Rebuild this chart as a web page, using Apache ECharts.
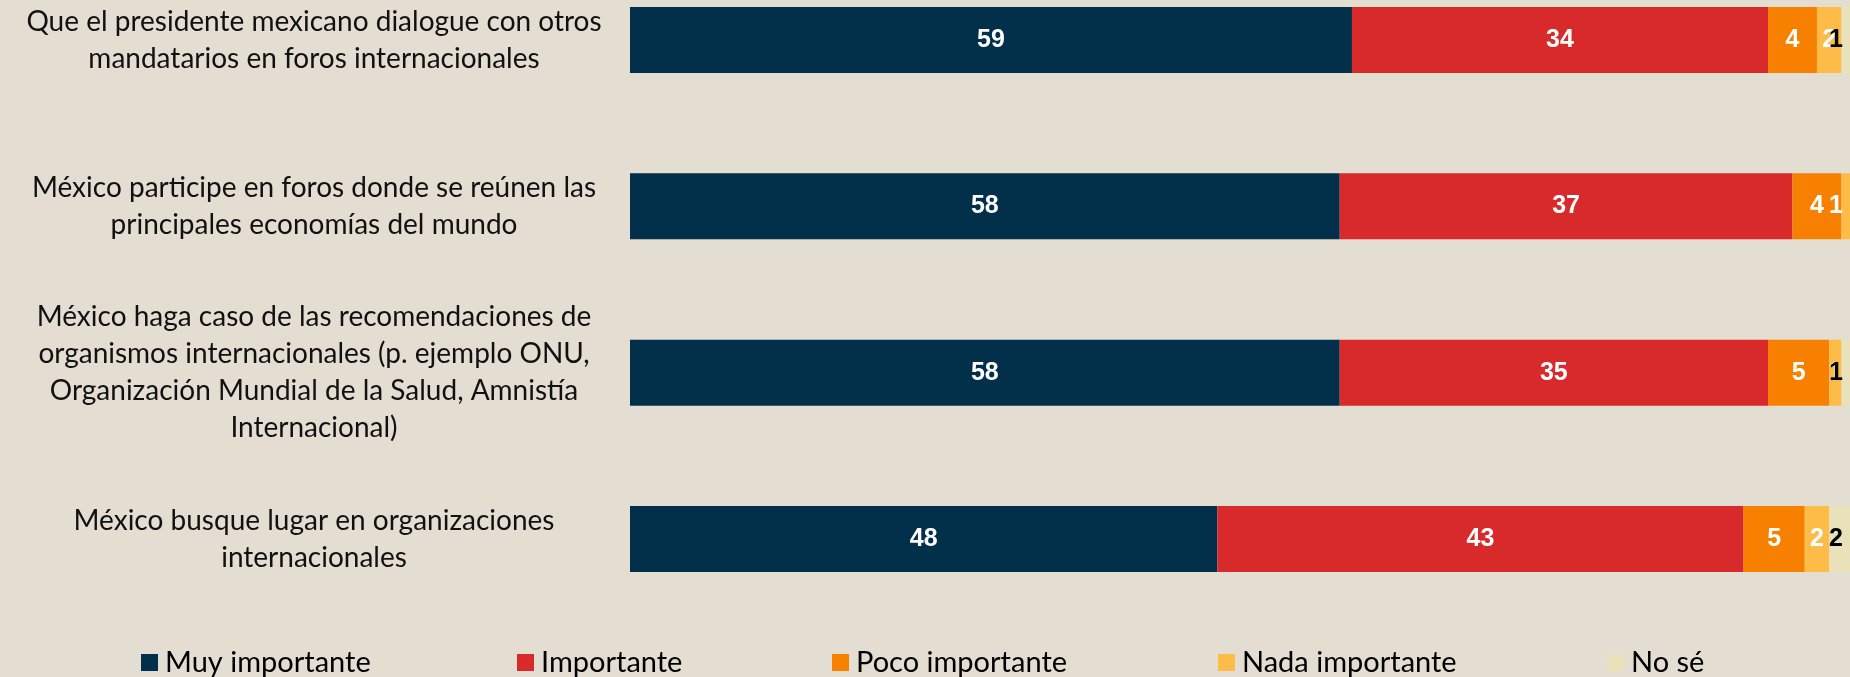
<!DOCTYPE html>
<html>
<head>
<meta charset="utf-8">
<script src="https://cdn.jsdelivr.net/npm/echarts@6/dist/echarts.min.js"></script>
<style>
html,body{margin:0;padding:0;background:#E3DDD2;}
#c{width:1850px;height:677px;}
</style>
</head>
<body>
<div id="c"></div>
<script>
const categories = [
  "Que el presidente mexicano dialogue con otros\nmandatarios en foros internacionales",
  "México participe en foros donde se reúnen las\nprincipales economías del mundo",
  "México haga caso de las recomendaciones de\norganismos internacionales (p. ejemplo ONU,\nOrganización Mundial de la Salud, Amnistía\nInternacional)",
  "México busque lugar en organizaciones\ninternacionales"
];
const seriesNames = ["Muy importante", "Importante", "Poco importante", "Nada importante", "No sé"];
const muyImportante = [59, 58, 58, 48];
const importante = [34, 37, 35, 43];
const pocoImportante = [4, 4, 5, 5];
const nadaImportante = [2, 1, 1, 2];
const noSe = [1, 0, 1, 2];

const values = [muyImportante, importante, pocoImportante, nadaImportante, noSe];
const colors = ["#022F4A", "#D8292B", "#F88000", "#FDBB48", "#E8E1BA"];
const labelColors = ["#fff", "#fff", "#fff", "#fff", "#000"];
const legendLeft = [141, 517, 832, 1218, 1607];
const W = 1850;

const chart = echarts.init(document.getElementById('c'), null, {renderer: 'canvas'});

const series = seriesNames.map((name, i) => ({
  name: name,
  type: 'bar',
  stack: 'total',
  barWidth: 66,
  clip: false,
  itemStyle: {color: colors[i]},
  label: {
    show: true,
    position: 'inside',
    color: labelColors[i],
    fontFamily: 'Liberation Sans, Arial, sans-serif',
    fontWeight: 'bold',
    fontSize: 25,
    formatter: p => (p.value > 0 ? String(p.value) : '')
  },
  labelLayout: function (params) {
    const r = params.labelRect;
    const cx = r.x + r.width / 2;
    const lim = W - 14;
    if (cx > lim) {
      return {dx: lim - cx};
    }
    return {};
  },
  data: values[i]
}));

const legends = seriesNames.map((name, i) => ({
  data: [name],
  left: legendLeft[i],
  top: 648,
  icon: 'rect',
  itemWidth: 17,
  itemHeight: 17,
  itemGap: 8,
  padding: 0,
  selectedMode: false,
  textStyle: {
    fontFamily: 'Lato, sans-serif',
    fontSize: 29,
    color: '#000',
    padding: [0, 0, 0, 2]
  }
}));

chart.setOption({
  backgroundColor: '#E3DDD2',
  animation: false,
  legend: legends,
  grid: {left: 630, right: 0, top: 40, bottom: 138, containLabel: false},
  xAxis: {
    type: 'value', min: 0, max: 99.7, show: false
  },
  yAxis: {
    type: 'category',
    inverse: true,
    boundaryGap: false,
    data: categories,
    axisLine: {show: false},
    axisTick: {show: false},
    splitLine: {show: false},
    axisLabel: {
      margin: 316,
      align: 'center',
      fontFamily: 'Lato, sans-serif',
      fontSize: 28,
      lineHeight: 37,
      color: '#111'
    }
  },
  series: series
});
</script>
</body>
</html>
